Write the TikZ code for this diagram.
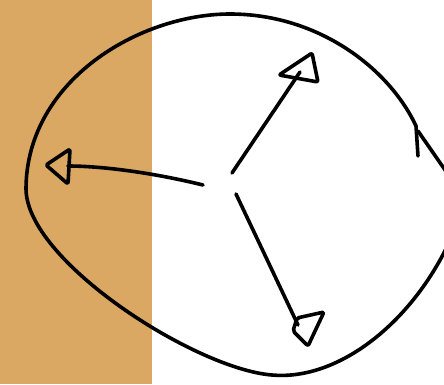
\documentclass[tikz,border=0pt]{standalone}
\definecolor{tan}{RGB}{219,168,99}
\tikzset{ink/.style={line width=3.6pt,line cap=round,line join=round,black},
  head/.style={ink,rounded corners=2pt}}
\begin{document}
\begin{tikzpicture}[x=1pt,y=-1pt]
\useasboundingbox (0,0) rectangle (444,384);
\clip (0,0) rectangle (444,384);
\fill[white] (0,0) rectangle (444,384);
\fill[tan] (0,0) rectangle (152,384);
% loop
\coordinate (s) at (418,156);
\coordinate (a) at (416,126);
\coordinate (b) at (230,14);
\coordinate (l) at (26,188);
\coordinate (d) at (272,375);
\coordinate (e) at (452,236);
\draw[ink] (s) -- (a) .. controls (390,70) and (320,14) .. (b)
  .. controls (140,14) and (27,80) .. (l)
  .. controls (25,260) and (195,369) .. (d)
  .. controls (340,381) and (415,320) .. (e);
\coordinate (f) at (452,180);
\draw[ink] (418,131) -- (f);
% arrows
\coordinate (c1) at (203,185);
\coordinate (t1) at (46,165);
\coordinate (c2) at (232,173);
\coordinate (t2) at (312,53);
\coordinate (c3) at (236,194);
\coordinate (t3) at (308,346);
\draw[ink] (c1) .. controls (150,172) and (100,166) .. (68,166);
\draw[head] (t1) -- (70,149) -- (68,184) -- cycle;
\draw[ink] (c2) -- (300,72);
\draw[head] (t2) -- (279,75) -- (318,82) -- cycle;
\draw[ink] (c3) -- (298,325);
\draw[head] (t3) -- (293,331) -- (297,318) -- (324,312) -- cycle;
\end{tikzpicture}
\end{document}
